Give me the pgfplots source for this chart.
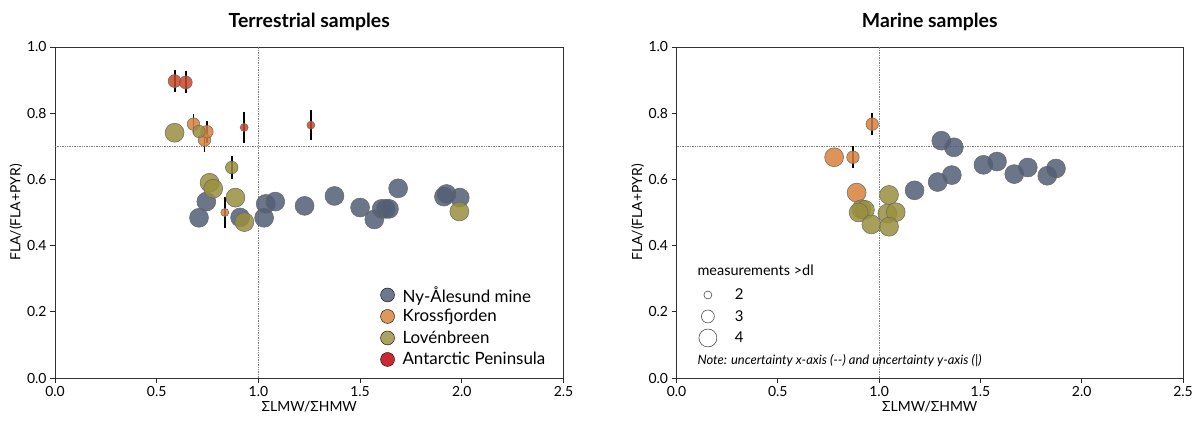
\documentclass[border=0pt]{standalone}
\usepackage{pgfplots}
\pgfplotsset{compat=1.18}
\usepackage{fontspec}
\setmainfont{Lato}
\definecolor{cblue}{HTML}{515E76}
\definecolor{corange}{HTML}{D8813B}
\definecolor{colive}{HTML}{998F3D}
\definecolor{cred}{HTML}{CA482B}
\definecolor{lblue}{HTML}{6E788A}
\definecolor{lorange}{HTML}{E0975B}
\definecolor{lolive}{HTML}{ABA35F}
\definecolor{lred}{HTML}{CC2A30}
\pgfplotsset{
  myaxis/.style={
    scale only axis, height=331bp,
    xmin=0, xmax=2.5, ymin=0, ymax=1,
    xtick={0,0.5,1,1.5,2,2.5}, ytick={0,0.2,0.4,0.6,0.8,1},
    tick align=outside, xtick pos=bottom, ytick pos=left,
    major tick length=5bp,
    tick style={black!85, line width=0.8bp},
    axis line style={line width=0.9bp, black!80},
    /pgf/number format/assume math mode=true,
    xticklabel style={font=\fontsize{14}{16}\selectfont, /pgf/number format/fixed, /pgf/number format/fixed zerofill, /pgf/number format/precision=1},
    yticklabel style={font=\fontsize{14}{16}\selectfont, /pgf/number format/fixed, /pgf/number format/fixed zerofill, /pgf/number format/precision=1},
    xlabel={ΣLMW/ΣHMW}, ylabel={FLA/(FLA+PYR)},
    xlabel style={at={(axis description cs:0.5,-0.0876)}, anchor=center, font=\fontsize{14}{16}\selectfont},
    ylabel style={at={(axis description cs:-0.0765,0.5)}, anchor=center, font=\fontsize{14}{16}\selectfont},
    title style={at={(axis description cs:0.5,1.057)}, anchor=center, font=\fontsize{19.5}{22}\selectfont\bfseries},
    clip=false,
  },
  pts/.style 2 args={only marks, mark=*, mark size=#2, forget plot,
    mark options={fill=#1, draw=black!60, fill opacity=0.85, line width=0.5bp},
    error bars/.cd, y dir=both, y explicit, error mark=none,
    error bar style={line width=1.9bp, black}},
}
\begin{document}
\begin{tikzpicture}
\path[use as bounding box] (0bp,0bp) rectangle (1192bp,422bp);
% ---------------- Terrestrial ----------------
\begin{axis}[myaxis, width=508.5bp, at={(55bp,44bp)}, anchor=south west, title={Terrestrial samples},
  legend style={draw=none, fill=none, at={(0.634,0.29)}, anchor=north west,
    font=\fontsize{17}{20}\selectfont, nodes={inner sep=1bp, minimum height=21.5bp}, row sep=0pt,
    /tikz/every odd column/.append style={column sep=7bp}},
  legend cell align=left]
\addplot[gray, densely dotted, line width=0.7bp, forget plot] coordinates {(1,0) (1,1)};
\addplot[gray, densely dotted, line width=0.7bp, forget plot] coordinates {(0,0.7) (2.5,0.7)};
% Ny-Alesund mine
\addplot[pts={cblue}{9.5}] coordinates {
(0.708,0.484) (0.744,0.533) (0.910,0.485) (1.028,0.484) (1.036,0.526) (1.083,0.533)
(1.227,0.520) (1.374,0.550) (1.500,0.515) (1.570,0.479) (1.606,0.511) (1.626,0.511)
(1.642,0.511) (1.687,0.573) (1.912,0.548) (1.925,0.556) (1.990,0.545)};
% Krossfjorden
\addplot[pts={corange}{6.3}] coordinates {
(0.681,0.767) +- (0,0.030)
(0.735,0.719) +- (0,0.035)
(0.747,0.744) +- (0,0.033)};
\addplot[pts={corange}{4}] coordinates {(0.835,0.500) +- (0,0.047)};
% Lovenbreen
\addplot[pts={colive}{9.5}] coordinates {
(0.588,0.741) (0.760,0.590) (0.778,0.572) (0.887,0.545) (0.931,0.471) (1.988,0.503)};
\addplot[pts={colive}{6.3}] coordinates {
(0.708,0.745) +- (0,0) (0.869,0.636) +- (0,0.034)};
% Antarctic Peninsula
\addplot[pts={cred}{6.5}] coordinates {
(0.588,0.897) +- (0,0.033) (0.643,0.893) +- (0,0.033)};
\addplot[pts={cred}{4}] coordinates {
(0.930,0.757) +- (0,0.046) (1.258,0.764) +- (0,0.046)};
\addlegendimage{only marks, mark=*, mark size=7, mark options={fill=lblue, draw=none}}
\addlegendentry{Ny-Ålesund mine}
\addlegendimage{only marks, mark=*, mark size=7, mark options={fill=lorange, draw=none}}
\addlegendentry{Krossfjorden}
\addlegendimage{only marks, mark=*, mark size=7, mark options={fill=lolive, draw=none}}
\addlegendentry{Lovénbreen}
\addlegendimage{only marks, mark=*, mark size=7, mark options={fill=lred, draw=none}}
\addlegendentry{Antarctic Peninsula}
\end{axis}
% ---------------- Marine ----------------
\begin{axis}[myaxis, width=506.5bp, at={(676.5bp,44bp)}, anchor=south west, title={Marine samples},
  legend style={draw=none, fill=none, at={(0.038,0.29)}, anchor=north west,
    font=\fontsize{15}{18}\selectfont, nodes={inner sep=1bp, minimum height=21.5bp}, row sep=0pt,
    /tikz/every odd column/.append style={column sep=17bp}},
  legend cell align=left]
\addplot[gray, densely dotted, line width=0.7bp, forget plot] coordinates {(1,0) (1,1)};
\addplot[gray, densely dotted, line width=0.7bp, forget plot] coordinates {(0,0.7) (2.5,0.7)};
\addplot[pts={cblue}{9.5}] coordinates {
(1.175,0.567) (1.289,0.592) (1.359,0.613) (1.307,0.717) (1.369,0.697) (1.515,0.644)
(1.582,0.654) (1.667,0.616) (1.734,0.636) (1.830,0.611) (1.873,0.633)};
\addplot[pts={corange}{9.5}] coordinates {(0.778,0.667) (0.889,0.560)};
\addplot[pts={corange}{6.3}] coordinates {
(0.966,0.767) +- (0,0.034) (0.871,0.667) +- (0,0.034)};
\addplot[pts={colive}{9.5}] coordinates {
(0.913,0.510) (0.930,0.508) (0.899,0.500) (0.962,0.464) (1.049,0.553) (1.041,0.497)
(1.082,0.501) (1.049,0.457)};
\addlegendimage{only marks, mark=o, mark size=4, mark options={draw=black!80, line width=0.5bp}}
\addlegendentry{2}
\addlegendimage{only marks, mark=o, mark size=6.5, mark options={draw=black!80, line width=0.5bp}}
\addlegendentry{3}
\addlegendimage{only marks, mark=o, mark size=9, mark options={draw=black!80, line width=0.5bp}}
\addlegendentry{4}
\node[anchor=west, font=\fontsize{14.5}{17}\selectfont, inner sep=0pt] at (axis cs:0.103,0.326) {measurements >dl};
\node[anchor=west, font=\fontsize{13}{15}\selectfont\itshape, inner sep=0pt] at (axis cs:0.103,0.054) {Note: uncertainty x-axis (-{}-) and uncertainty y-axis (|)};
\end{axis}
\end{tikzpicture}
\end{document}
